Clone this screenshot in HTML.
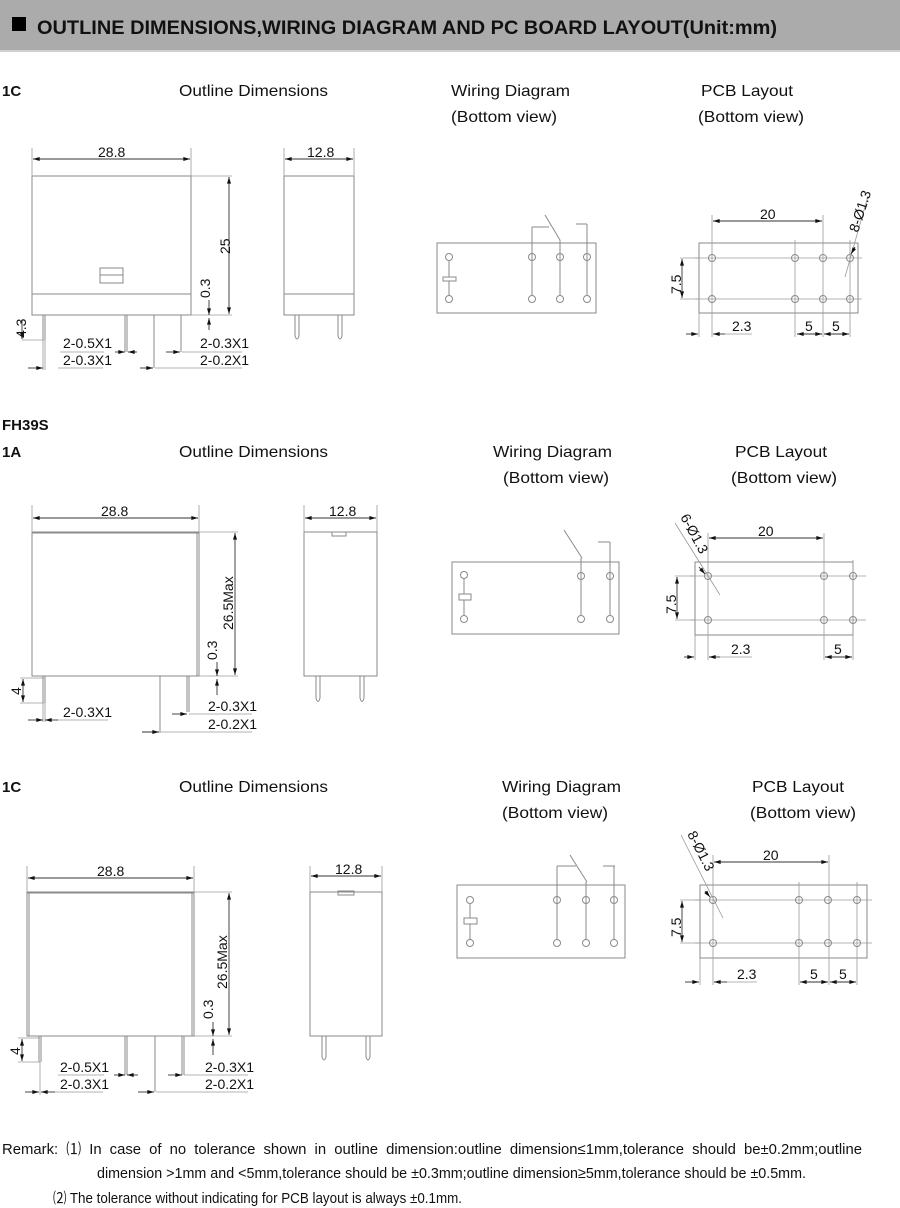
<!DOCTYPE html>
<html><head><meta charset="utf-8"><style>
html,body{margin:0;padding:0;background:#fff;}
svg{display:block;}
text{font-family:"Liberation Sans",Arial,sans-serif;fill:#111;}
.l{stroke:#8a8a8a;stroke-width:1;fill:none;}
.d{stroke:#9a9a9a;stroke-width:0.8;fill:none;}
.k{stroke:#333;stroke-width:0.9;fill:none;}
.h{font-size:16px;}
.s{font-size:14px;}
.b{font-size:15px;font-weight:bold;}
</style></head><body>
<svg width="900" height="1208" viewBox="0 0 900 1208" xmlns="http://www.w3.org/2000/svg">
<defs>
<marker id="a" viewBox="0 0 10 6" refX="10" refY="3" markerWidth="9" markerHeight="4" markerUnits="userSpaceOnUse" orient="auto-start-reverse"><path d="M0,0L10,3L0,6z" fill="#111"/></marker>
</defs>
<rect x="0" y="0" width="900" height="51" fill="#ababab"/>
<rect x="0" y="50" width="900" height="2" fill="#d0d0d0"/>
<rect x="12" y="17" width="14" height="14" fill="#000"/>
<text x="37" y="34" font-size="19" font-weight="bold" textLength="740" lengthAdjust="spacingAndGlyphs">OUTLINE DIMENSIONS,WIRING DIAGRAM AND PC BOARD LAYOUT(Unit:mm)</text>

<text x="2" y="96" class="b">1C</text>
<text x="179" y="96" class="h" textLength="149" lengthAdjust="spacingAndGlyphs">Outline Dimensions</text>
<text x="451" y="96" class="h" textLength="119" lengthAdjust="spacingAndGlyphs">Wiring Diagram</text>
<text x="451" y="122" class="h" textLength="106" lengthAdjust="spacingAndGlyphs">(Bottom view)</text>
<text x="701" y="96" class="h" textLength="92" lengthAdjust="spacingAndGlyphs">PCB Layout</text>
<text x="698" y="122" class="h" textLength="106" lengthAdjust="spacingAndGlyphs">(Bottom view)</text>

<g>
<rect x="32" y="176" width="159" height="139" class="l"/>
<line x1="32" y1="294" x2="191" y2="294" class="l"/>
<rect x="100" y="268" width="23" height="15" class="l"/><line x1="100" y1="275" x2="123" y2="275" class="l"/>
<line x1="32" y1="148" x2="32" y2="176" class="d"/><line x1="191" y1="148" x2="191" y2="176" class="d"/>
<line x1="33" y1="159" x2="190" y2="159" class="k" marker-start="url(#a)" marker-end="url(#a)"/>
<text x="98" y="157" class="s">28.8</text>
<line x1="191" y1="176" x2="232" y2="176" class="d"/><line x1="191" y1="315" x2="232" y2="315" class="d"/>
<line x1="229" y1="177" x2="229" y2="314" class="k" marker-start="url(#a)" marker-end="url(#a)"/>
<text transform="translate(230,254) rotate(-90)" class="s">25</text>
<text transform="translate(210,298) rotate(-90)" class="s">0.3</text>
<line x1="209" y1="300" x2="209" y2="315" class="k" marker-end="url(#a)"/>
<line x1="209" y1="330" x2="209" y2="318" class="k" marker-end="url(#a)"/>
<g class="l"><line x1="43" y1="315" x2="43" y2="340"/><line x1="45" y1="315" x2="45" y2="340"/>
<line x1="125" y1="315" x2="125" y2="352"/><line x1="127" y1="315" x2="127" y2="352"/>
<line x1="154" y1="315" x2="154" y2="368"/><line x1="181" y1="315" x2="181" y2="352"/></g>
<line x1="22" y1="340" x2="44" y2="340" class="d"/>
<line x1="22" y1="320" x2="22" y2="339" class="k" marker-end="url(#a)"/>
<text transform="translate(26,338) rotate(-90)" class="s">4.3</text>
<line x1="43" y1="340" x2="43" y2="370" class="d"/><line x1="45" y1="340" x2="45" y2="370" class="d"/>
<line x1="28" y1="368" x2="43" y2="368" class="k" marker-end="url(#a)"/><line x1="58" y1="368" x2="103" y2="368" class="d"/>
<text x="63" y="348" class="s">2-0.5X1</text><text x="63" y="365" class="s">2-0.3X1</text>
<line x1="60" y1="352" x2="104" y2="352" class="d"/>
<line x1="115" y1="352" x2="125" y2="352" class="k" marker-end="url(#a)"/><line x1="137" y1="352" x2="128" y2="352" class="k" marker-end="url(#a)"/>
<line x1="140" y1="368" x2="153" y2="368" class="k" marker-end="url(#a)"/><line x1="155" y1="368" x2="242" y2="368" class="d"/>
<line x1="166" y1="352" x2="180" y2="352" class="k" marker-end="url(#a)"/><line x1="182" y1="352" x2="242" y2="352" class="d"/>
<text x="200" y="348" class="s">2-0.3X1</text><text x="200" y="365" class="s">2-0.2X1</text>
<rect x="284" y="176" width="70" height="139" class="l"/>
<line x1="284" y1="294" x2="354" y2="294" class="l"/>
<line x1="284" y1="148" x2="284" y2="176" class="d"/><line x1="354" y1="148" x2="354" y2="176" class="d"/>
<line x1="285" y1="159" x2="353" y2="159" class="k" marker-start="url(#a)" marker-end="url(#a)"/>
<text x="307" y="157" class="s">12.8</text>
<path d="M295,315V336Q297,342 299,336V315M338,315V336Q340,342 342,336V315" class="l"/>
</g>

<g class="l">
<rect x="437" y="243" width="159" height="70"/>
<circle cx="449" cy="257" r="3.5"/><circle cx="449" cy="299" r="3.5"/>
<line x1="449" y1="261" x2="449" y2="277"/><line x1="449" y1="281" x2="449" y2="295"/>
<rect x="443" y="277" width="13" height="4"/>
<circle cx="532" cy="257" r="3.5"/><circle cx="532" cy="299" r="3.5"/>
<circle cx="560" cy="257" r="3.5"/><circle cx="560" cy="299" r="3.5"/>
<circle cx="587" cy="257" r="3.5"/><circle cx="587" cy="299" r="3.5"/>
<line x1="532" y1="227" x2="532" y2="295"/><line x1="532" y1="227" x2="549" y2="227"/>
<line x1="545" y1="215" x2="560" y2="240"/><line x1="560" y1="240" x2="560" y2="295"/>
<line x1="576" y1="224" x2="587" y2="224"/><line x1="587" y1="224" x2="587" y2="295"/>
</g>

<g>
<rect x="699" y="243" width="159" height="70" class="l"/>
<g class="d"><line x1="695" y1="258" x2="862" y2="258"/><line x1="695" y1="299" x2="862" y2="299"/>
<line x1="712" y1="215" x2="712" y2="337"/><line x1="795" y1="240" x2="795" y2="337"/><line x1="823" y1="215" x2="823" y2="337"/><line x1="850" y1="240" x2="850" y2="337"/>
<line x1="699" y1="313" x2="699" y2="337"/><line x1="680" y1="258" x2="699" y2="258"/><line x1="680" y1="299" x2="699" y2="299"/></g>
<g class="l"><circle cx="712" cy="258" r="3.5"/><circle cx="795" cy="258" r="3.5"/><circle cx="823" cy="258" r="3.5"/><circle cx="850" cy="258" r="3.5"/>
<circle cx="712" cy="299" r="3.5"/><circle cx="795" cy="299" r="3.5"/><circle cx="823" cy="299" r="3.5"/><circle cx="850" cy="299" r="3.5"/></g>
<line x1="713" y1="221" x2="822" y2="221" class="k" marker-start="url(#a)" marker-end="url(#a)"/>
<text x="760" y="219" class="s">20</text>
<line x1="682" y1="259" x2="682" y2="298" class="k" marker-start="url(#a)" marker-end="url(#a)"/>
<text transform="translate(681,294) rotate(-90)" class="s">7.5</text>
<line x1="686" y1="334" x2="698" y2="334" class="k" marker-end="url(#a)"/>
<line x1="725" y1="334" x2="713" y2="334" class="k" marker-end="url(#a)"/><line x1="725" y1="334" x2="752" y2="334" class="d"/>
<text x="732" y="331" class="s">2.3</text>
<line x1="797" y1="334" x2="822" y2="334" class="k" marker-start="url(#a)" marker-end="url(#a)"/>
<line x1="824" y1="334" x2="849" y2="334" class="k" marker-start="url(#a)" marker-end="url(#a)"/>
<text x="805" y="331" class="s">5</text><text x="832" y="331" class="s">5</text>
<line x1="868" y1="196" x2="845" y2="277" class="d"/>
<line x1="855" y1="247" x2="851" y2="254" class="k" marker-end="url(#a)"/>
<text transform="translate(858,233) rotate(-72)" class="s">8-Ø1.3</text>
</g>

<text x="2" y="430" class="b">FH39S</text>
<text x="2" y="457" class="b">1A</text>
<text x="179" y="457" class="h" textLength="149" lengthAdjust="spacingAndGlyphs">Outline Dimensions</text>
<text x="493" y="457" class="h" textLength="119" lengthAdjust="spacingAndGlyphs">Wiring Diagram</text>
<text x="503" y="483" class="h" textLength="106" lengthAdjust="spacingAndGlyphs">(Bottom view)</text>
<text x="735" y="457" class="h" textLength="92" lengthAdjust="spacingAndGlyphs">PCB Layout</text>
<text x="731" y="483" class="h" textLength="106" lengthAdjust="spacingAndGlyphs">(Bottom view)</text>

<g>
<rect x="32" y="532" width="167" height="144" class="l"/>
<line x1="32" y1="533" x2="199" y2="533" class="l" stroke-width="2"/>
<line x1="197" y1="532" x2="197" y2="676" class="l"/>
<line x1="32" y1="505" x2="32" y2="532" class="d"/><line x1="199" y1="505" x2="199" y2="532" class="d"/>
<line x1="33" y1="518" x2="198" y2="518" class="k" marker-start="url(#a)" marker-end="url(#a)"/>
<text x="101" y="516" class="s">28.8</text>
<line x1="199" y1="532" x2="238" y2="532" class="d"/><line x1="199" y1="676" x2="238" y2="676" class="d"/>
<line x1="235" y1="533" x2="235" y2="675" class="k" marker-start="url(#a)" marker-end="url(#a)"/>
<text transform="translate(233,630) rotate(-90)" class="s">26.5Max</text>
<text transform="translate(217,660) rotate(-90)" class="s">0.3</text>
<line x1="217" y1="662" x2="217" y2="676" class="k" marker-end="url(#a)"/>
<line x1="217" y1="695" x2="217" y2="679" class="k" marker-end="url(#a)"/>
<g class="l"><line x1="43" y1="676" x2="43" y2="703"/><line x1="45" y1="676" x2="45" y2="703"/>
<line x1="160" y1="676" x2="160" y2="733"/><line x1="187" y1="676" x2="187" y2="712"/><line x1="189" y1="676" x2="189" y2="712"/></g>
<line x1="20" y1="703" x2="44" y2="703" class="d"/><line x1="20" y1="678" x2="44" y2="678" class="d"/>
<line x1="23" y1="679" x2="23" y2="702" class="k" marker-start="url(#a)" marker-end="url(#a)"/>
<text transform="translate(21,695) rotate(-90)" class="s">4</text>
<line x1="43" y1="703" x2="43" y2="722" class="d"/><line x1="45" y1="703" x2="45" y2="722" class="d"/>
<line x1="28" y1="720" x2="43" y2="720" class="k" marker-end="url(#a)"/><line x1="58" y1="720" x2="45" y2="720" class="k" marker-end="url(#a)"/>
<line x1="58" y1="720" x2="108" y2="720" class="d"/>
<text x="63" y="717" class="s">2-0.3X1</text>
<line x1="172" y1="714" x2="187" y2="714" class="k" marker-end="url(#a)"/><line x1="189" y1="714" x2="252" y2="714" class="d"/>
<line x1="142" y1="732" x2="159" y2="732" class="k" marker-end="url(#a)"/><line x1="161" y1="732" x2="252" y2="732" class="d"/>
<text x="208" y="711" class="s">2-0.3X1</text><text x="208" y="729" class="s">2-0.2X1</text>
<rect x="304" y="532" width="73" height="144" class="l"/>
<rect x="332" y="532" width="14" height="4" class="l"/>
<line x1="304" y1="505" x2="304" y2="532" class="d"/><line x1="377" y1="505" x2="377" y2="532" class="d"/>
<line x1="305" y1="518" x2="376" y2="518" class="k" marker-start="url(#a)" marker-end="url(#a)"/>
<text x="329" y="516" class="s">12.8</text>
<path d="M316,676V698Q318,705 320,698V676M360,676V698Q362,705 364,698V676" class="l"/>
</g>

<g class="l">
<rect x="452" y="562" width="167" height="72"/>
<circle cx="464" cy="575" r="3.5"/><circle cx="464" cy="619" r="3.5"/>
<line x1="464" y1="579" x2="464" y2="594"/><line x1="464" y1="600" x2="464" y2="615"/>
<rect x="459" y="594" width="12" height="6"/>
<circle cx="581" cy="576" r="3.5"/><circle cx="581" cy="619" r="3.5"/>
<circle cx="610" cy="576" r="3.5"/><circle cx="610" cy="619" r="3.5"/>
<line x1="564" y1="530" x2="582" y2="558"/><line x1="581" y1="558" x2="581" y2="615"/>
<line x1="598" y1="542" x2="610" y2="542"/><line x1="610" y1="542" x2="610" y2="615"/>
</g>

<g>
<rect x="695" y="562" width="158" height="73" class="l"/>
<g class="d"><line x1="690" y1="576" x2="866" y2="576"/><line x1="690" y1="620" x2="866" y2="620"/>
<line x1="708" y1="533" x2="708" y2="660"/><line x1="824" y1="533" x2="824" y2="660"/><line x1="853" y1="560" x2="853" y2="660"/>
<line x1="695" y1="635" x2="695" y2="660"/><line x1="675" y1="576" x2="695" y2="576"/><line x1="675" y1="620" x2="695" y2="620"/></g>
<g class="l"><circle cx="708" cy="576" r="3.5"/><circle cx="824" cy="576" r="3.5"/><circle cx="853" cy="576" r="3.5"/>
<circle cx="708" cy="620" r="3.5"/><circle cx="824" cy="620" r="3.5"/><circle cx="853" cy="620" r="3.5"/></g>
<line x1="709" y1="538" x2="823" y2="538" class="k" marker-start="url(#a)" marker-end="url(#a)"/>
<text x="758" y="536" class="s">20</text>
<line x1="677" y1="577" x2="677" y2="619" class="k" marker-start="url(#a)" marker-end="url(#a)"/>
<text transform="translate(676,614) rotate(-90)" class="s">7.5</text>
<line x1="684" y1="657" x2="694" y2="657" class="k" marker-end="url(#a)"/>
<line x1="720" y1="657" x2="709" y2="657" class="k" marker-end="url(#a)"/><line x1="720" y1="657" x2="752" y2="657" class="d"/>
<text x="731" y="654" class="s">2.3</text>
<line x1="825" y1="657" x2="852" y2="657" class="k" marker-start="url(#a)" marker-end="url(#a)"/>
<text x="834" y="654" class="s">5</text>
<line x1="675" y1="523" x2="720" y2="595" class="d"/>
<line x1="699" y1="567" x2="705" y2="574" class="k" marker-end="url(#a)"/>
<text transform="translate(680,517) rotate(62)" class="s">6-Ø1.3</text>
</g>

<text x="2" y="792" class="b">1C</text>
<text x="179" y="792" class="h" textLength="149" lengthAdjust="spacingAndGlyphs">Outline Dimensions</text>
<text x="502" y="792" class="h" textLength="119" lengthAdjust="spacingAndGlyphs">Wiring Diagram</text>
<text x="502" y="818" class="h" textLength="106" lengthAdjust="spacingAndGlyphs">(Bottom view)</text>
<text x="752" y="792" class="h" textLength="92" lengthAdjust="spacingAndGlyphs">PCB Layout</text>
<text x="750" y="818" class="h" textLength="106" lengthAdjust="spacingAndGlyphs">(Bottom view)</text>

<g>
<rect x="27" y="892" width="167" height="144" class="l"/>
<line x1="27" y1="893" x2="194" y2="893" class="l" stroke-width="2"/>
<line x1="29" y1="892" x2="29" y2="1036" class="l"/><line x1="192" y1="892" x2="192" y2="1036" class="l"/>
<line x1="27" y1="866" x2="27" y2="892" class="d"/><line x1="194" y1="866" x2="194" y2="892" class="d"/>
<line x1="28" y1="878" x2="193" y2="878" class="k" marker-start="url(#a)" marker-end="url(#a)"/>
<text x="97" y="876" class="s">28.8</text>
<line x1="194" y1="892" x2="232" y2="892" class="d"/><line x1="194" y1="1036" x2="232" y2="1036" class="d"/>
<line x1="229" y1="893" x2="229" y2="1035" class="k" marker-start="url(#a)" marker-end="url(#a)"/>
<text transform="translate(227,989) rotate(-90)" class="s">26.5Max</text>
<text transform="translate(213,1019) rotate(-90)" class="s">0.3</text>
<line x1="213" y1="1022" x2="213" y2="1036" class="k" marker-end="url(#a)"/>
<line x1="213" y1="1055" x2="213" y2="1039" class="k" marker-end="url(#a)"/>
<g class="l"><line x1="39" y1="1036" x2="39" y2="1062"/><line x1="41" y1="1036" x2="41" y2="1062"/>
<line x1="125" y1="1036" x2="125" y2="1075"/><line x1="127" y1="1036" x2="127" y2="1075"/>
<line x1="155" y1="1036" x2="155" y2="1092"/><line x1="182" y1="1036" x2="182" y2="1075"/><line x1="184" y1="1036" x2="184" y2="1075"/></g>
<line x1="18" y1="1062" x2="40" y2="1062" class="d"/><line x1="18" y1="1038" x2="40" y2="1038" class="d"/>
<line x1="22" y1="1039" x2="22" y2="1061" class="k" marker-start="url(#a)" marker-end="url(#a)"/>
<text transform="translate(20,1055) rotate(-90)" class="s">4</text>
<line x1="40" y1="1062" x2="40" y2="1095" class="d"/>
<line x1="25" y1="1092" x2="39" y2="1092" class="k" marker-end="url(#a)"/><line x1="55" y1="1092" x2="41" y2="1092" class="k" marker-end="url(#a)"/>
<line x1="55" y1="1092" x2="103" y2="1092" class="d"/>
<text x="60" y="1072" class="s">2-0.5X1</text><text x="60" y="1089" class="s">2-0.3X1</text>
<line x1="58" y1="1075" x2="104" y2="1075" class="d"/>
<line x1="114" y1="1075" x2="125" y2="1075" class="k" marker-end="url(#a)"/><line x1="138" y1="1075" x2="127" y2="1075" class="k" marker-end="url(#a)"/>
<line x1="138" y1="1092" x2="154" y2="1092" class="k" marker-end="url(#a)"/><line x1="156" y1="1092" x2="248" y2="1092" class="d"/>
<line x1="168" y1="1075" x2="182" y2="1075" class="k" marker-end="url(#a)"/><line x1="184" y1="1075" x2="248" y2="1075" class="d"/>
<text x="205" y="1072" class="s">2-0.3X1</text><text x="205" y="1089" class="s">2-0.2X1</text>
<rect x="310" y="892" width="72" height="144" class="l"/>
<rect x="338" y="891" width="16" height="4" class="l"/>
<line x1="310" y1="866" x2="310" y2="892" class="d"/><line x1="382" y1="866" x2="382" y2="892" class="d"/>
<line x1="311" y1="876" x2="381" y2="876" class="k" marker-start="url(#a)" marker-end="url(#a)"/>
<text x="335" y="874" class="s">12.8</text>
<path d="M322,1036V1057Q324,1063 326,1057V1036M366,1036V1057Q368,1063 370,1057V1036" class="l"/>
</g>

<g class="l">
<rect x="457" y="885" width="168" height="73"/>
<circle cx="470" cy="900" r="3.5"/><circle cx="470" cy="943" r="3.5"/>
<line x1="470" y1="904" x2="470" y2="918"/><line x1="470" y1="924" x2="470" y2="939"/>
<rect x="464" y="918" width="13" height="6"/>
<circle cx="557" cy="900" r="3.5"/><circle cx="557" cy="943" r="3.5"/>
<circle cx="586" cy="900" r="3.5"/><circle cx="586" cy="943" r="3.5"/>
<circle cx="614" cy="900" r="3.5"/><circle cx="614" cy="943" r="3.5"/>
<line x1="557" y1="866" x2="557" y2="939"/><line x1="557" y1="866" x2="576" y2="866"/>
<line x1="570" y1="855" x2="587" y2="882"/><line x1="586" y1="882" x2="586" y2="939"/>
<line x1="603" y1="866" x2="615" y2="866"/><line x1="614" y1="866" x2="614" y2="939"/>
</g>

<g>
<rect x="700" y="885" width="167" height="73" class="l"/>
<g class="d"><line x1="695" y1="900" x2="872" y2="900"/><line x1="695" y1="943" x2="872" y2="943"/>
<line x1="713" y1="855" x2="713" y2="985"/><line x1="799" y1="882" x2="799" y2="985"/><line x1="829" y1="855" x2="829" y2="985"/><line x1="857" y1="882" x2="857" y2="985"/>
<line x1="700" y1="958" x2="700" y2="985"/><line x1="680" y1="900" x2="700" y2="900"/><line x1="680" y1="943" x2="700" y2="943"/></g>
<g class="l"><circle cx="713" cy="900" r="3.5"/><circle cx="799" cy="900" r="3.5"/><circle cx="828" cy="900" r="3.5"/><circle cx="857" cy="900" r="3.5"/>
<circle cx="713" cy="943" r="3.5"/><circle cx="799" cy="943" r="3.5"/><circle cx="828" cy="943" r="3.5"/><circle cx="857" cy="943" r="3.5"/></g>
<line x1="714" y1="862" x2="828" y2="862" class="k" marker-start="url(#a)" marker-end="url(#a)"/>
<text x="763" y="860" class="s">20</text>
<line x1="682" y1="901" x2="682" y2="942" class="k" marker-start="url(#a)" marker-end="url(#a)"/>
<text transform="translate(681,937) rotate(-90)" class="s">7.5</text>
<line x1="685" y1="982" x2="699" y2="982" class="k" marker-end="url(#a)"/>
<line x1="727" y1="982" x2="714" y2="982" class="k" marker-end="url(#a)"/><line x1="727" y1="982" x2="757" y2="982" class="d"/>
<text x="737" y="979" class="s">2.3</text>
<line x1="800" y1="982" x2="828" y2="982" class="k" marker-start="url(#a)" marker-end="url(#a)"/>
<line x1="830" y1="982" x2="856" y2="982" class="k" marker-start="url(#a)" marker-end="url(#a)"/>
<text x="810" y="979" class="s">5</text><text x="839" y="979" class="s">5</text>
<line x1="681" y1="835" x2="723" y2="918" class="d"/>
<line x1="705" y1="891" x2="710" y2="897" class="k" marker-end="url(#a)"/>
<text transform="translate(687,834) rotate(63)" class="s">8-Ø1.3</text>
</g>

<text x="2" y="1154" font-size="15" textLength="860" lengthAdjust="spacingAndGlyphs" word-spacing="4">Remark: ⑴ In case of no tolerance shown in outline dimension:outline dimension≤1mm,tolerance should be±0.2mm;outline</text>
<text x="97" y="1178" font-size="15" textLength="709" lengthAdjust="spacingAndGlyphs">dimension &gt;1mm and &lt;5mm,tolerance should be ±0.3mm;outline dimension≥5mm,tolerance should be ±0.5mm.</text>
<text x="53" y="1203" font-size="15" textLength="409" lengthAdjust="spacingAndGlyphs">⑵ The tolerance without indicating for PCB layout is always ±0.1mm.</text>
</svg>
</body></html>
